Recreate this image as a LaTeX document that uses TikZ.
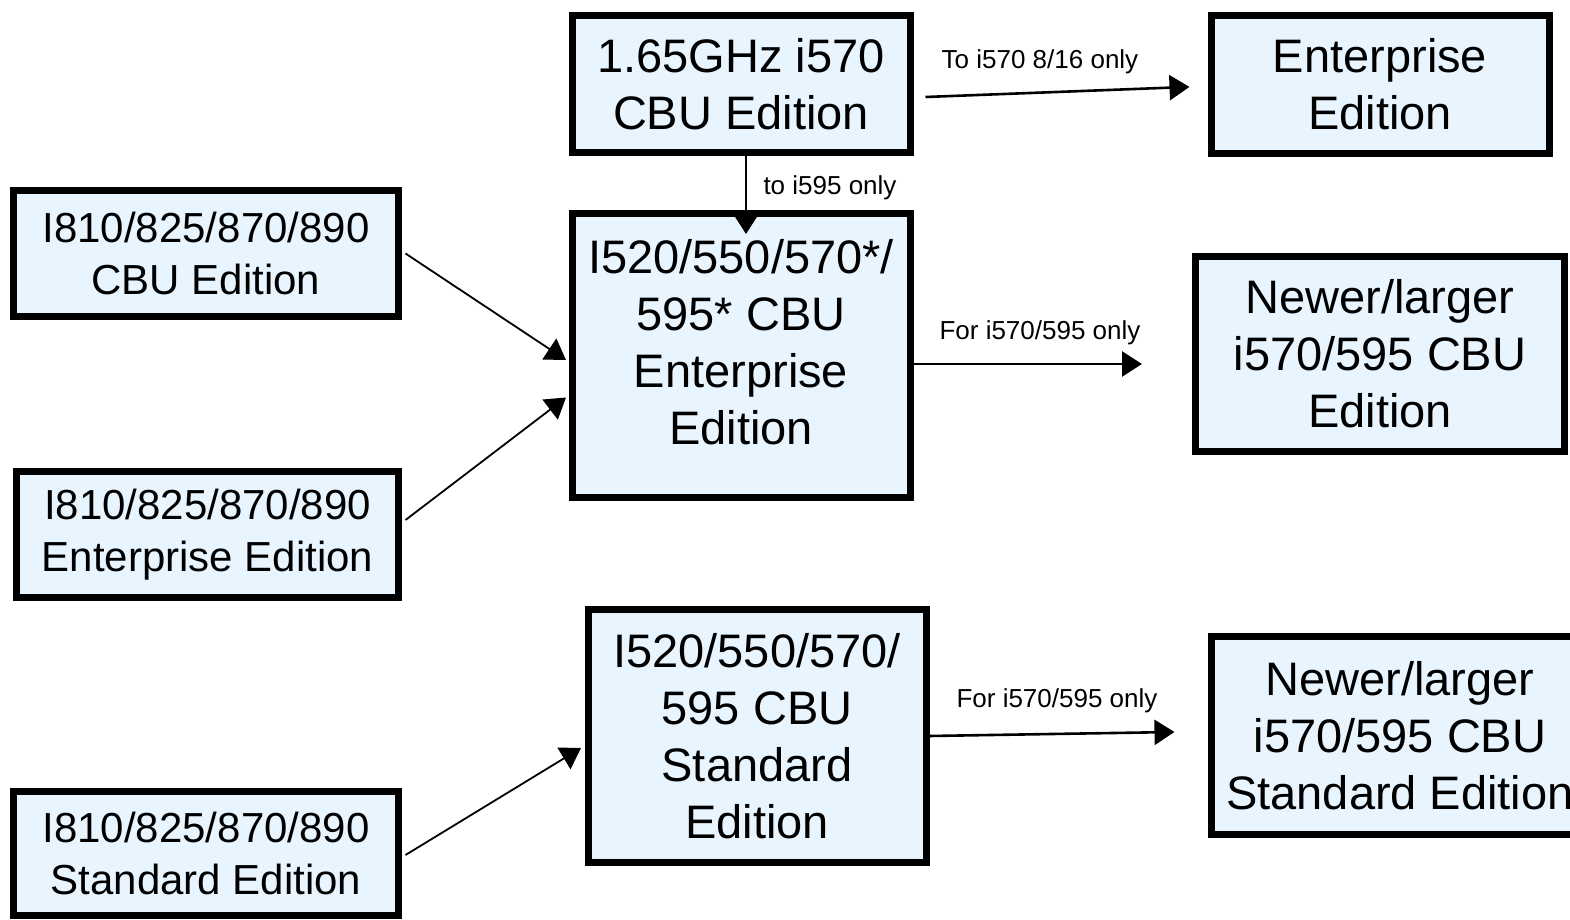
\documentclass[tikz,border=0pt]{standalone}
\usepackage{fontspec}
\setmainfont{Liberation Sans}
\usetikzlibrary{arrows.meta}
\definecolor{boxfill}{RGB}{232,245,255}

\begin{document}
\begin{tikzpicture}[x=0.5pt,y=-0.5pt,
  box/.style={draw,line width=3.5pt,fill=boxfill,inner sep=0pt,align=center,
    font=\fontsize{23.5}{28.5}\selectfont},
  oldbox/.style={box,minimum width=192.5pt,minimum height=63pt,
    font=\fontsize{21}{26}\selectfont},
  lbl/.style={font=\fontsize{13}{15}\selectfont,inner sep=0pt},
  arr/.style={-{Triangle[length=10pt,width=12.5pt]},line width=1.3pt},
  thin arr/.style={arr,line width=0.9pt}]

\useasboundingbox (0,0) rectangle (1570,920);

% top row
\node[box,minimum width=169pt,minimum height=68.5pt] (ghz) at (741,84)
  {1.65GHz i570\\CBU Edition};
\node[box,minimum width=169pt,minimum height=69pt] (ent) at (1380,84.5)
  {Enterprise\\Edition};

% CBU enterprise row
\node[oldbox] (oldcbu) at (206,253.5) {I810/825/870/890\\CBU Edition};
\node[oldbox,minimum width=191pt] (oldent) at (207.5,534.5)
  {I810/825/870/890\\Enterprise Edition};
\node[box,minimum width=169pt,minimum height=142pt] (cbuent) at (741,355.5)
  {\raisebox{4pt}[\height][\depth]{\begin{tabular}{@{}c@{}}I520/550/570*/\\595* CBU\\Enterprise\\Edition\end{tabular}}};
\node[box,minimum width=184.5pt,minimum height=97.5pt] (newcbu) at (1380,354)
  {Newer/larger\\i570/595 CBU\\Edition};

% standard row
\node[oldbox,minimum height=62pt] (oldstd) at (206,853)
  {I810/825/870/890\\Standard Edition};
\node[box,minimum width=169pt,minimum height=126.5pt] (cbustd) at (757,736)
  {I520/550/570/\\595 CBU\\Standard\\Edition};
\node[box,minimum width=188.5pt,minimum height=99pt] (newstd) at (1400,735.5)
  {Newer/larger\\i570/595 CBU\\Standard Edition};

% connectors
\draw[arr] ([xshift=6pt,yshift=-6.5pt]ghz.east) -- ([xshift=-9pt,yshift=-1.2pt]ent.west);
\node[lbl] (lab1) at (1040,62) {To i570 8/16 only};

\draw[arr] ([xshift=2.5pt]ghz.south) -- ([xshift=2.5pt,yshift=-12pt]cbuent.north);
\node[lbl] (lab2) at (830,188) {to i595 only};

\draw[thin arr] ([xshift=1.75pt]oldcbu.east) -- ([xshift=-1.25pt,yshift=-2.25pt]cbuent.west);
\draw[thin arr] ([xshift=1.75pt,yshift=7.25pt]oldent.east) -- ([xshift=-1.25pt,yshift=-21pt]cbuent.west);

\draw[arr] ([yshift=-4.25pt]cbuent.east) -- ([xshift=-25pt,yshift=-5pt]newcbu.west);
\node[lbl] (lab3) at (1040,333) {For i570/595 only};

\draw[thin arr] ([xshift=1.75pt,yshift=-1pt]oldstd.east) -- ([xshift=-1.75pt,yshift=-6pt]cbustd.west);
\draw[arr] (cbustd.east) -- ([xshift=-16.75pt,yshift=1.75pt]newstd.west);
\node[lbl] (lab4) at (1057,701) {For i570/595 only};

\end{tikzpicture}
\end{document}
